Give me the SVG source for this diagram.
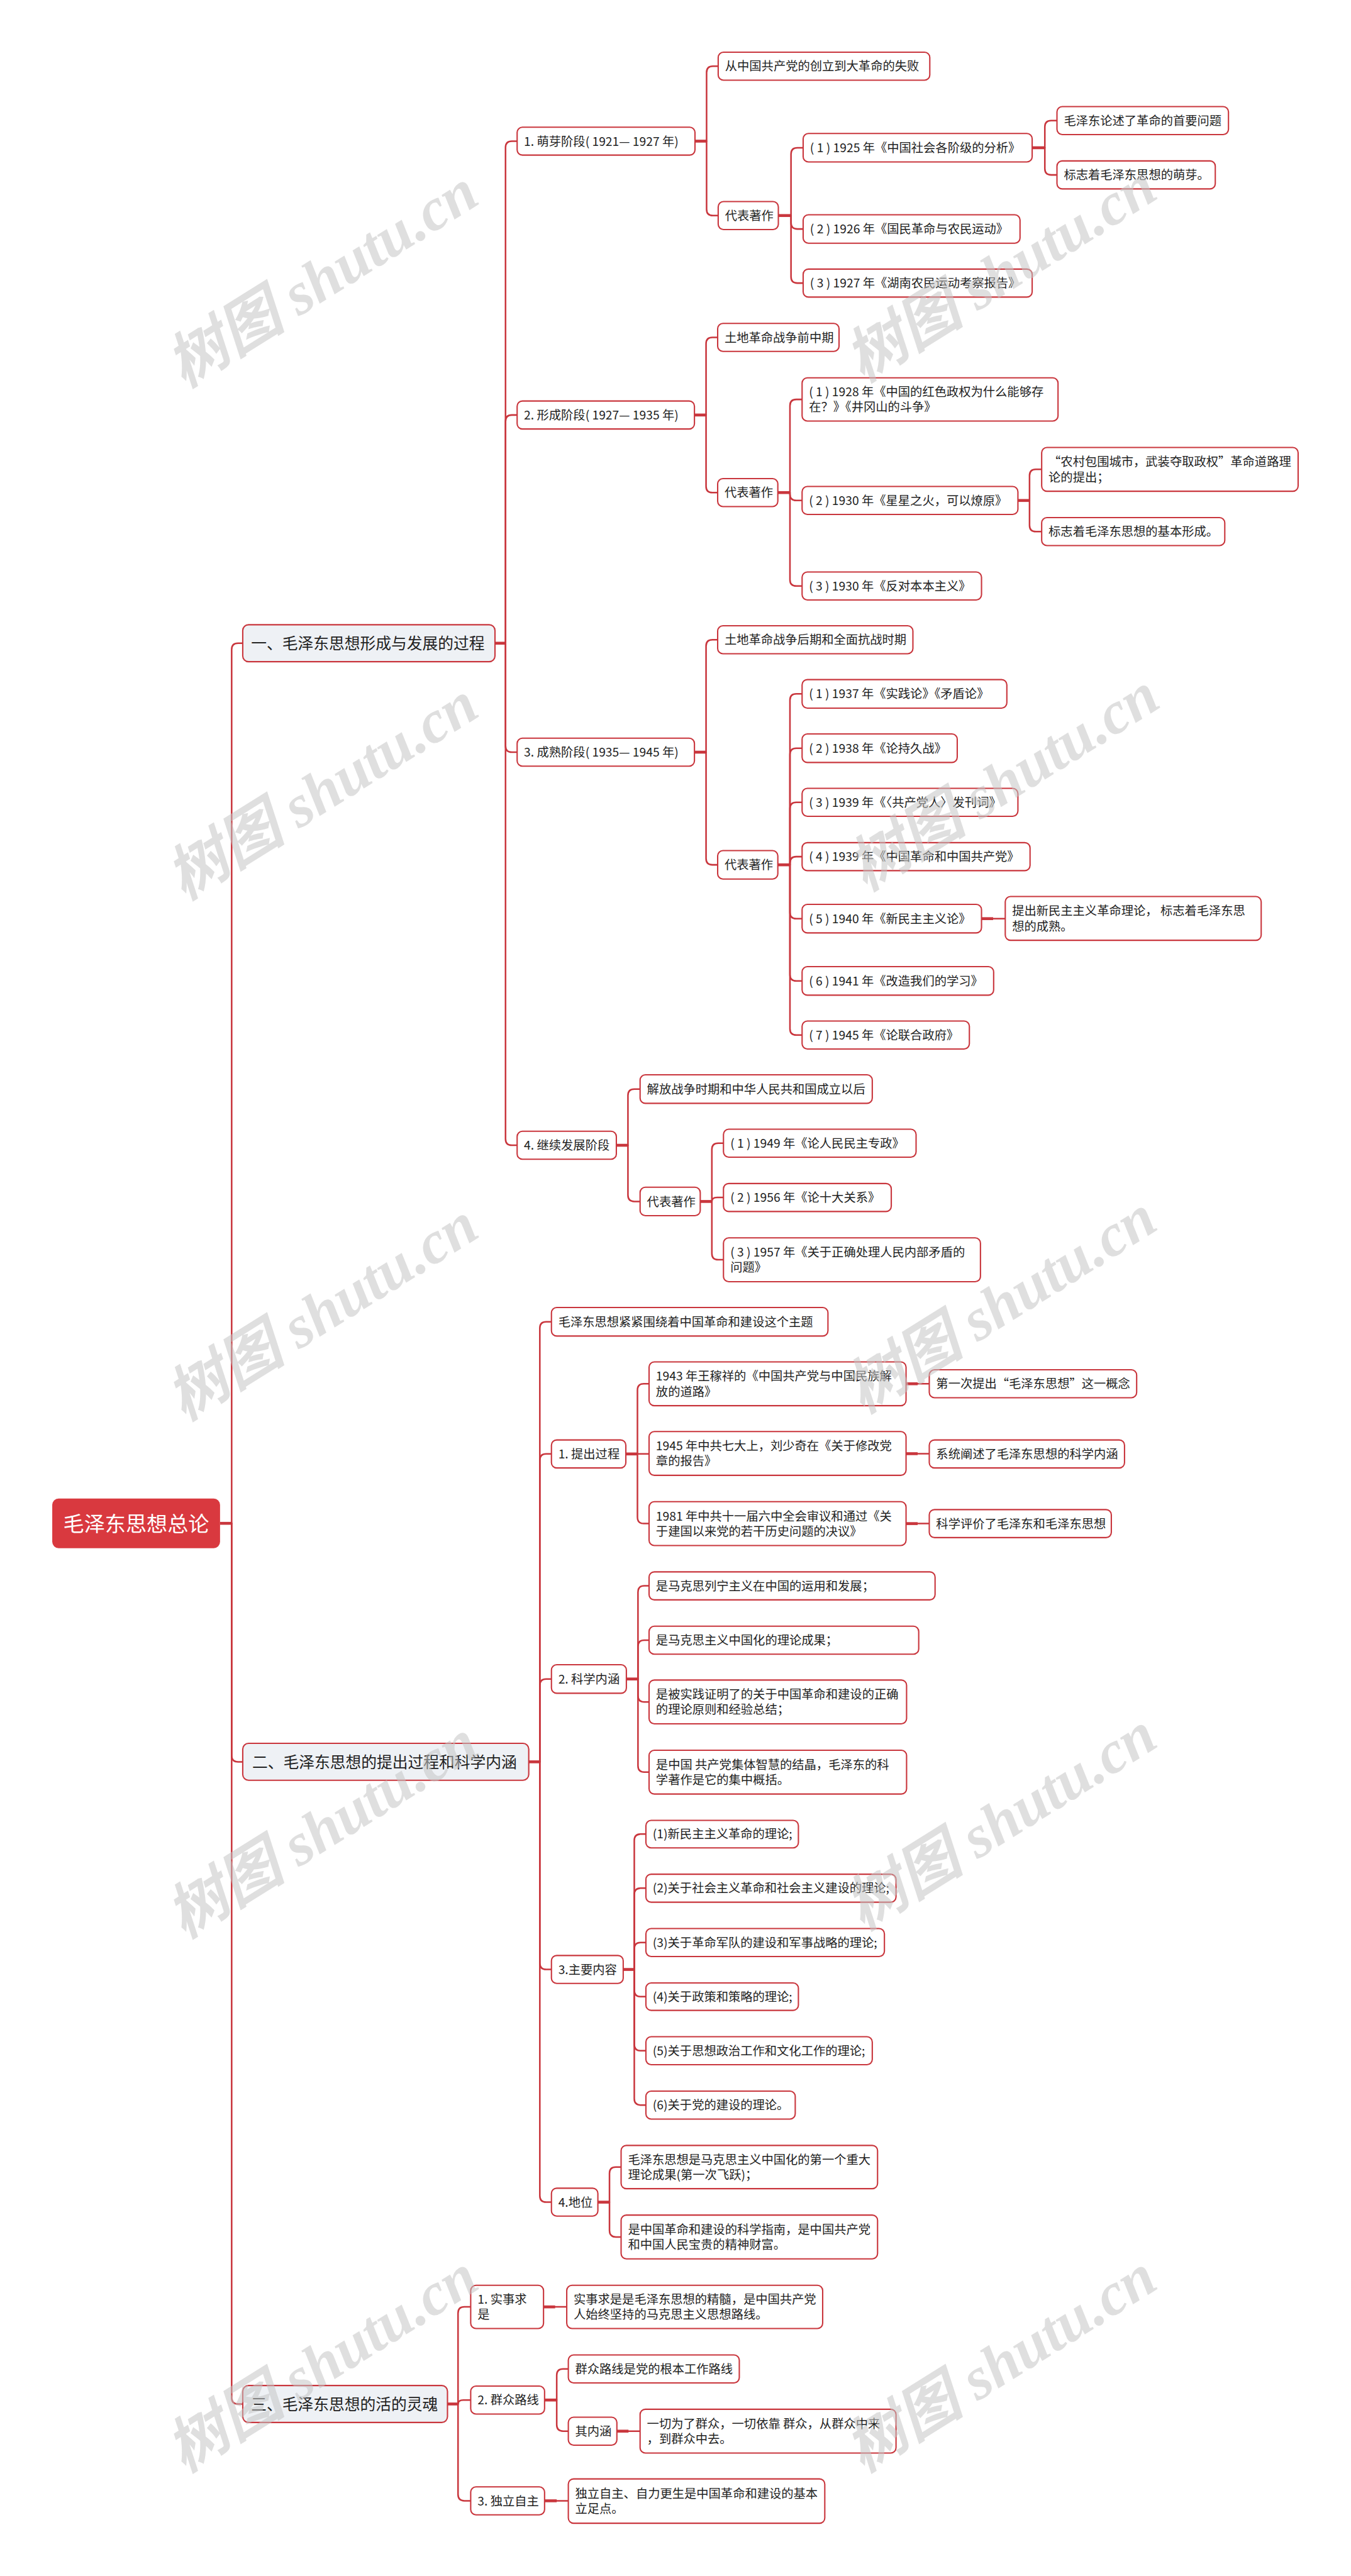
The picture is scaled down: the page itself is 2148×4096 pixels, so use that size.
<svg xmlns="http://www.w3.org/2000/svg" width="2148" height="4096" viewBox="0 0 2148 4096">
<style>
.n rect{fill:#fff;stroke:#C9363D;stroke-width:2.5}
.s rect{fill:#EEF1F5;stroke:#C9363D;stroke-width:2.5}
text{font-family:"Noto Sans CJK SC","Noto Sans",sans-serif;font-size:23px;fill:#222}
.s text{font-size:29.5px}
#root text{font-size:39.5px;fill:#fff}
.c path{fill:none;stroke:#C9363D;stroke-width:3;stroke-linecap:round}
.c path.st{stroke-width:5.5;stroke-linecap:butt}
.wm text{font-family:"Liberation Serif","Noto Sans CJK SC",serif;font-style:italic;font-weight:bold;font-size:114px;fill:#c4c4c4;fill-opacity:0.55}
</style>
<rect width="2148" height="4096" fill="#fff"/>
<g transform="scale(0.839)">
<g class="c" id="connectors">
<path class="st" d="M417 2887H439"/>
<path d="M439 2887V1231Q439 1219 451 1219H460"/>
<path d="M439 2887V3327Q439 3339 451 3339H460"/>
<path d="M439 2887V4544Q439 4556 451 4556H460"/>
<path class="st" d="M938 1219H958"/>
<path d="M958 1219V279.5Q958 267.5 970 267.5H980"/>
<path d="M958 1219V798.5Q958 786.5 970 786.5H980"/>
<path d="M958 1219V1413.5Q958 1425.5 970 1425.5H980"/>
<path d="M958 1219V2158.5Q958 2170.5 970 2170.5H980"/>
<path class="st" d="M1317 267.5H1339"/>
<path d="M1339 267.5V137.5Q1339 125.5 1351 125.5H1361"/>
<path d="M1339 267.5V396.5Q1339 408.5 1351 408.5H1361"/>
<path class="st" d="M1475 408.5H1499"/>
<path d="M1499 408.5V292Q1499 280 1511 280H1522"/>
<path d="M1499 408.5V422Q1499 434 1511 434H1522"/>
<path d="M1499 408.5V524.5Q1499 536.5 1511 536.5H1522"/>
<path class="st" d="M1956 280H1980"/>
<path d="M1980 280V240.5Q1980 228.5 1992 228.5H2003"/>
<path d="M1980 280V319.5Q1980 331.5 1992 331.5H2003"/>
<path class="st" d="M1316 786.5H1338"/>
<path d="M1338 786.5V651.5Q1338 639.5 1350 639.5H1360"/>
<path d="M1338 786.5V921.5Q1338 933.5 1350 933.5H1360"/>
<path class="st" d="M1474 933.5H1497"/>
<path d="M1497 933.5V769Q1497 757 1509 757H1520"/>
<path d="M1497 933.5V936.5Q1497 948.5 1509 948.5H1520"/>
<path d="M1497 933.5V1098.5Q1497 1110.5 1509 1110.5H1520"/>
<path class="st" d="M1929 948.5H1951"/>
<path d="M1951 948.5V901.5Q1951 889.5 1963 889.5H1974"/>
<path d="M1951 948.5V995.5Q1951 1007.5 1963 1007.5H1974"/>
<path class="st" d="M1316 1425.5H1338"/>
<path d="M1338 1425.5V1224.5Q1338 1212.5 1350 1212.5H1360"/>
<path d="M1338 1425.5V1627Q1338 1639 1350 1639H1360"/>
<path class="st" d="M1474 1639H1497"/>
<path d="M1497 1639V1327Q1497 1315 1509 1315H1520"/>
<path d="M1497 1639V1430Q1497 1418 1509 1418H1520"/>
<path d="M1497 1639V1532.5Q1497 1520.5 1509 1520.5H1520"/>
<path d="M1497 1639V1635.5Q1497 1623.5 1509 1623.5H1520"/>
<path d="M1497 1639V1729Q1497 1741 1509 1741H1520"/>
<path d="M1497 1639V1847Q1497 1859 1509 1859H1520"/>
<path d="M1497 1639V1949.5Q1497 1961.5 1509 1961.5H1520"/>
<path class="st" d="M1860 1741H1882"/>
<path d="M1882 1741H1905"/>
<path class="st" d="M1168 2170.5H1190"/>
<path d="M1190 2170.5V2076Q1190 2064 1202 2064H1213"/>
<path d="M1190 2170.5V2265Q1190 2277 1202 2277H1213"/>
<path class="st" d="M1327 2277H1349"/>
<path d="M1349 2277V2178.5Q1349 2166.5 1361 2166.5H1371"/>
<path d="M1349 2277C1349 2272 1352 2269.5 1359 2269.5H1371"/>
<path d="M1349 2277V2375.5Q1349 2387.5 1361 2387.5H1371"/>
<path class="st" d="M1002 3339H1023"/>
<path d="M1023 3339V2517Q1023 2505 1035 2505H1045"/>
<path d="M1023 3339V2767.5Q1023 2755.5 1035 2755.5H1045"/>
<path d="M1023 3339V3194Q1023 3182 1035 3182H1045"/>
<path d="M1023 3339V3720.5Q1023 3732.5 1035 3732.5H1045"/>
<path d="M1023 3339V4161.5Q1023 4173.5 1035 4173.5H1045"/>
<path class="st" d="M1186 2755.5H1208"/>
<path d="M1208 2755.5V2634.5Q1208 2622.5 1220 2622.5H1230"/>
<path d="M1208 2755.5H1230"/>
<path d="M1208 2755.5V2875.5Q1208 2887.5 1220 2887.5H1230"/>
<path class="st" d="M1717 2622.5H1739"/>
<path d="M1739 2622.5H1761"/>
<path class="st" d="M1717 2755H1739"/>
<path d="M1739 2755H1761"/>
<path class="st" d="M1717 2887.5H1739"/>
<path d="M1739 2887.5H1761"/>
<path class="st" d="M1187 3182H1209"/>
<path d="M1209 3182V3017.5Q1209 3005.5 1221 3005.5H1230"/>
<path d="M1209 3182V3120.5Q1209 3108.5 1221 3108.5H1230"/>
<path d="M1209 3182V3213.5Q1209 3225.5 1221 3225.5H1230"/>
<path d="M1209 3182V3346.5Q1209 3358.5 1221 3358.5H1230"/>
<path class="st" d="M1181 3732.5H1202"/>
<path d="M1202 3732.5V3488Q1202 3476 1214 3476H1224"/>
<path d="M1202 3732.5V3590.5Q1202 3578.5 1214 3578.5H1224"/>
<path d="M1202 3732.5V3693.5Q1202 3681.5 1214 3681.5H1224"/>
<path d="M1202 3732.5V3772Q1202 3784 1214 3784H1224"/>
<path d="M1202 3732.5V3874.5Q1202 3886.5 1214 3886.5H1224"/>
<path d="M1202 3732.5V3977.5Q1202 3989.5 1214 3989.5H1224"/>
<path class="st" d="M1133 4173.5H1155"/>
<path d="M1155 4173.5V4119Q1155 4107 1167 4107H1177"/>
<path d="M1155 4173.5V4227.5Q1155 4239.5 1167 4239.5H1177"/>
<path class="st" d="M848 4556H868"/>
<path d="M868 4556V4384Q868 4372 880 4372H892"/>
<path d="M868 4556C868 4551 871 4548.5 878 4548.5H892"/>
<path d="M868 4556V4727.5Q868 4739.5 880 4739.5H892"/>
<path class="st" d="M1030 4372H1052"/>
<path d="M1052 4372H1074"/>
<path class="st" d="M1032 4548.5H1055"/>
<path d="M1055 4548.5V4501.5Q1055 4489.5 1067 4489.5H1077"/>
<path d="M1055 4548.5V4595.5Q1055 4607.5 1067 4607.5H1077"/>
<path class="st" d="M1169 4607.5H1191"/>
<path d="M1191 4607.5H1213"/>
<path class="st" d="M1032 4739.5H1055"/>
<path d="M1055 4739.5H1077"/>
</g>

<g id="root"><rect x="99" y="2840" width="318" height="94" rx="12" fill="#D9393F"/><text x="258" y="2902" text-anchor="middle">毛泽东思想总论</text></g>

<g id="s1" class="s"><rect x="460" y="1184" width="478" height="70" rx="11"/><text x="476" y="1230">一、毛泽东思想形成与发展的过程</text></g>
<g id="s2" class="s"><rect x="460" y="3304" width="542" height="70" rx="11"/><text x="478" y="3350">二、毛泽东思想的提出过程和科学内涵</text></g>
<g id="s3" class="s"><rect x="460" y="4521" width="388" height="70" rx="11"/><text x="476" y="4567">三、毛泽东思想的活的灵魂</text></g>

<g id="n1a" class="n"><rect x="980" y="241" width="337" height="53" rx="10"/><text x="993" y="276">1. 萌芽阶段( 1921— 1927 年)</text></g>
<g id="n1a1" class="n"><rect x="1361" y="99" width="401" height="53" rx="10"/><text x="1374" y="134">从中国共产党的创立到大革命的失败</text></g>
<g id="n1a2" class="n"><rect x="1361" y="382" width="114" height="53" rx="10"/><text x="1374" y="417">代表著作</text></g>
<g id="n1a2a" class="n"><rect x="1522" y="253" width="434" height="54" rx="10"/><text x="1535" y="288.5">( 1 ) 1925 年《中国社会各阶级的分析》</text></g>
<g id="n1a2b" class="n"><rect x="1522" y="407" width="411" height="54" rx="10"/><text x="1535" y="442.5">( 2 ) 1926 年《国民革命与农民运动》</text></g>
<g id="n1a2c" class="n"><rect x="1522" y="510" width="434" height="53" rx="10"/><text x="1535" y="545">( 3 ) 1927 年《湖南农民运动考察报告》</text></g>
<g id="n1a2a1" class="n"><rect x="2003" y="202" width="325" height="53" rx="10"/><text x="2016" y="237">毛泽东论述了革命的首要问题</text></g>
<g id="n1a2a2" class="n"><rect x="2003" y="305" width="300" height="53" rx="10"/><text x="2016" y="340">标志着毛泽东思想的萌芽。</text></g>

<g id="n1b" class="n"><rect x="980" y="760" width="336" height="53" rx="10"/><text x="993" y="795">2. 形成阶段( 1927— 1935 年)</text></g>
<g id="n1b1" class="n"><rect x="1360" y="613" width="230" height="53" rx="10"/><text x="1373" y="648">土地革命战争前中期</text></g>
<g id="n1b2" class="n"><rect x="1360" y="907" width="114" height="53" rx="10"/><text x="1373" y="942">代表著作</text></g>
<g id="n1b2a" class="n"><rect x="1520" y="716" width="485" height="82" rx="10"/><text x="1533" y="751">( 1 ) 1928 年《中国的红色政权为什么能够存</text><text x="1533" y="780">在？》《井冈山的斗争》</text></g>
<g id="n1b2b" class="n"><rect x="1520" y="922" width="409" height="53" rx="10"/><text x="1533" y="957">( 2 ) 1930 年《星星之火，可以燎原》</text></g>
<g id="n1b2c" class="n"><rect x="1520" y="1084" width="340" height="53" rx="10"/><text x="1533" y="1119">( 3 ) 1930 年《反对本本主义》</text></g>
<g id="n1b2b1" class="n"><rect x="1974" y="848" width="486" height="83" rx="10"/><text x="1987" y="883.5">“农村包围城市，武装夺取政权”革命道路理</text><text x="1987" y="912.5">论的提出；</text></g>
<g id="n1b2b2" class="n"><rect x="1974" y="981" width="347" height="53" rx="10"/><text x="1987" y="1016">标志着毛泽东思想的基本形成。</text></g>

<g id="n1c" class="n"><rect x="980" y="1399" width="336" height="53" rx="10"/><text x="993" y="1434">3. 成熟阶段( 1935— 1945 年)</text></g>
<g id="n1c1" class="n"><rect x="1360" y="1186" width="370" height="53" rx="10"/><text x="1373" y="1221">土地革命战争后期和全面抗战时期</text></g>
<g id="n1c2" class="n"><rect x="1360" y="1612" width="114" height="54" rx="10"/><text x="1373" y="1647.5">代表著作</text></g>
<g id="n1c2a" class="n"><rect x="1520" y="1288" width="388" height="54" rx="10"/><text x="1533" y="1323.5">( 1 ) 1937 年《实践论》《矛盾论》</text></g>
<g id="n1c2b" class="n"><rect x="1520" y="1391" width="294" height="54" rx="10"/><text x="1533" y="1426.5">( 2 ) 1938 年《论持久战》</text></g>
<g id="n1c2c" class="n"><rect x="1520" y="1494" width="409" height="53" rx="10"/><text x="1533" y="1529">( 3 ) 1939 年《〈共产党人〉发刊词》</text></g>
<g id="n1c2d" class="n"><rect x="1520" y="1597" width="432" height="53" rx="10"/><text x="1533" y="1632">( 4 ) 1939 年《中国革命和中国共产党》</text></g>
<g id="n1c2e" class="n"><rect x="1520" y="1714" width="340" height="54" rx="10"/><text x="1533" y="1749.5">( 5 ) 1940 年《新民主主义论》</text></g>
<g id="n1c2f" class="n"><rect x="1520" y="1832" width="363" height="54" rx="10"/><text x="1533" y="1867.5">( 6 ) 1941 年《改造我们的学习》</text></g>
<g id="n1c2g" class="n"><rect x="1520" y="1935" width="317" height="53" rx="10"/><text x="1533" y="1970">( 7 ) 1945 年《论联合政府》</text></g>
<g id="n1c2e1" class="n"><rect x="1905" y="1699" width="485" height="83" rx="10"/><text x="1918" y="1734.5">提出新民主主义革命理论， 标志着毛泽东思</text><text x="1918" y="1763.5">想的成熟。</text></g>

<g id="n1d" class="n"><rect x="980" y="2144" width="188" height="53" rx="10"/><text x="993" y="2179">4. 继续发展阶段</text></g>
<g id="n1d1" class="n"><rect x="1213" y="2037" width="440" height="54" rx="10"/><text x="1226" y="2072.5">解放战争时期和中华人民共和国成立以后</text></g>
<g id="n1d2" class="n"><rect x="1213" y="2250" width="114" height="54" rx="10"/><text x="1226" y="2285.5">代表著作</text></g>
<g id="n1d2a" class="n"><rect x="1371" y="2140" width="365" height="53" rx="10"/><text x="1384" y="2175">( 1 ) 1949 年《论人民民主专政》</text></g>
<g id="n1d2b" class="n"><rect x="1371" y="2243" width="318" height="53" rx="10"/><text x="1384" y="2278">( 2 ) 1956 年《论十大关系》</text></g>
<g id="n1d2c" class="n"><rect x="1371" y="2346" width="487" height="83" rx="10"/><text x="1384" y="2381.5">( 3 ) 1957 年《关于正确处理人民内部矛盾的</text><text x="1384" y="2410.5">问题》</text></g>

<g id="n2a" class="n"><rect x="1045" y="2478" width="524" height="54" rx="10"/><text x="1058" y="2513.5">毛泽东思想紧紧围绕着中国革命和建设这个主题</text></g>
<g id="n2b" class="n"><rect x="1045" y="2729" width="141" height="53" rx="10"/><text x="1058" y="2764">1. 提出过程</text></g>
<g id="n2b1" class="n"><rect x="1230" y="2581" width="487" height="83" rx="10"/><text x="1243" y="2616.5">1943 年王稼祥的《中国共产党与中国民族解</text><text x="1243" y="2645.5">放的道路》</text></g>
<g id="n2b2" class="n"><rect x="1230" y="2713" width="487" height="83" rx="10"/><text x="1243" y="2748.5">1945 年中共七大上，刘少奇在《关于修改党</text><text x="1243" y="2777.5">章的报告》</text></g>
<g id="n2b3" class="n"><rect x="1230" y="2846" width="487" height="83" rx="10"/><text x="1243" y="2881.5">1981 年中共十一届六中全会审议和通过《关</text><text x="1243" y="2910.5">于建国以来党的若干历史问题的决议》</text></g>
<g id="n2b1a" class="n"><rect x="1761" y="2596" width="393" height="53" rx="10"/><text x="1774" y="2631">第一次提出“毛泽东思想”这一概念</text></g>
<g id="n2b2a" class="n"><rect x="1761" y="2729" width="370" height="53" rx="10"/><text x="1774" y="2764">系统阐述了毛泽东思想的科学内涵</text></g>
<g id="n2b3a" class="n"><rect x="1761" y="2861" width="345" height="53" rx="10"/><text x="1774" y="2896">科学评价了毛泽东和毛泽东思想</text></g>
<g id="n2c" class="n"><rect x="1045" y="3155" width="142" height="54" rx="10"/><text x="1058" y="3190.5">2. 科学内涵</text></g>
<g id="n2c1" class="n"><rect x="1230" y="2979" width="542" height="53" rx="10"/><text x="1243" y="3014">是马克思列宁主义在中国的运用和发展；</text></g>
<g id="n2c2" class="n"><rect x="1230" y="3082" width="511" height="53" rx="10"/><text x="1243" y="3117">是马克思主义中国化的理论成果；</text></g>
<g id="n2c3" class="n"><rect x="1230" y="3184" width="488" height="83" rx="10"/><text x="1243" y="3219.5">是被实践证明了的关于中国革命和建设的正确</text><text x="1243" y="3248.5">的理论原则和经验总结；</text></g>
<g id="n2c4" class="n"><rect x="1230" y="3317" width="488" height="83" rx="10"/><text x="1243" y="3352.5">是中国 共产党集体智慧的结晶，毛泽东的科</text><text x="1243" y="3381.5">学著作是它的集中概括。</text></g>
<g id="n2d" class="n"><rect x="1045" y="3706" width="136" height="53" rx="10"/><text x="1058" y="3741">3.主要内容</text></g>
<g id="n2d1" class="n"><rect x="1224" y="3450" width="289" height="52" rx="10"/><text x="1237" y="3484.5">(1)新民主主义革命的理论;</text></g>
<g id="n2d2" class="n"><rect x="1224" y="3552" width="474" height="53" rx="10"/><text x="1237" y="3587">(2)关于社会主义革命和社会主义建设的理论;</text></g>
<g id="n2d3" class="n"><rect x="1224" y="3655" width="452" height="53" rx="10"/><text x="1237" y="3690">(3)关于革命军队的建设和军事战略的理论;</text></g>
<g id="n2d4" class="n"><rect x="1224" y="3758" width="289" height="52" rx="10"/><text x="1237" y="3792.5">(4)关于政策和策略的理论;</text></g>
<g id="n2d5" class="n"><rect x="1224" y="3860" width="429" height="53" rx="10"/><text x="1237" y="3895">(5)关于思想政治工作和文化工作的理论;</text></g>
<g id="n2d6" class="n"><rect x="1224" y="3963" width="283" height="53" rx="10"/><text x="1237" y="3998">(6)关于党的建设的理论。</text></g>
<g id="n2e" class="n"><rect x="1045" y="4147" width="88" height="53" rx="10"/><text x="1058" y="4182">4.地位</text></g>
<g id="n2e1" class="n"><rect x="1177" y="4066" width="486" height="82" rx="10"/><text x="1190" y="4101">毛泽东思想是马克思主义中国化的第一个重大</text><text x="1190" y="4130">理论成果(第一次飞跃)；</text></g>
<g id="n2e2" class="n"><rect x="1177" y="4198" width="486" height="83" rx="10"/><text x="1190" y="4233.5">是中国革命和建设的科学指南，是中国共产党</text><text x="1190" y="4262.5">和中国人民宝贵的精神财富。</text></g>

<g id="n3a" class="n"><rect x="892" y="4331" width="138" height="82" rx="10"/><text x="905" y="4366">1. 实事求</text><text x="905" y="4395">是</text></g>
<g id="n3a1" class="n"><rect x="1074" y="4331" width="485" height="82" rx="10"/><text x="1087" y="4366">实事求是是毛泽东思想的精髓，是中国共产党</text><text x="1087" y="4395">人始终坚持的马克思主义思想路线。</text></g>
<g id="n3b" class="n"><rect x="892" y="4522" width="140" height="53" rx="10"/><text x="905" y="4557">2. 群众路线</text></g>
<g id="n3b1" class="n"><rect x="1077" y="4463" width="324" height="53" rx="10"/><text x="1090" y="4498">群众路线是党的根本工作路线</text></g>
<g id="n3b2" class="n"><rect x="1077" y="4581" width="92" height="53" rx="10"/><text x="1090" y="4616">其内涵</text></g>
<g id="n3b2a" class="n"><rect x="1213" y="4566" width="485" height="83" rx="10"/><text x="1226" y="4601.5">一切为了群众，一切依靠 群众，从群众中来</text><text x="1226" y="4630.5">，到群众中去。</text></g>
<g id="n3c" class="n"><rect x="892" y="4713" width="140" height="53" rx="10"/><text x="905" y="4748">3. 独立自主</text></g>
<g id="n3c1" class="n"><rect x="1077" y="4698" width="486" height="84" rx="10"/><text x="1090" y="4734">独立自主、自力更生是中国革命和建设的基本</text><text x="1090" y="4763">立足点。</text></g>

<g class="wm" id="watermark">
<text x="349" y="736" transform="rotate(-32 349 736)">树图 shutu.cn</text>
<text x="1635" y="726" transform="rotate(-32 1635 726)">树图 shutu.cn</text>
<text x="349" y="1707" transform="rotate(-32 349 1707)">树图 shutu.cn</text>
<text x="1640" y="1690" transform="rotate(-32 1640 1690)">树图 shutu.cn</text>
<text x="349" y="2694" transform="rotate(-32 349 2694)">树图 shutu.cn</text>
<text x="1635" y="2680" transform="rotate(-32 1635 2680)">树图 shutu.cn</text>
<text x="349" y="3675" transform="rotate(-32 349 3675)">树图 shutu.cn</text>
<text x="1635" y="3660" transform="rotate(-32 1635 3660)">树图 shutu.cn</text>
<text x="349" y="4687" transform="rotate(-32 349 4687)">树图 shutu.cn</text>
<text x="1635" y="4687" transform="rotate(-32 1635 4687)">树图 shutu.cn</text>
</g>
</g>
</svg>
